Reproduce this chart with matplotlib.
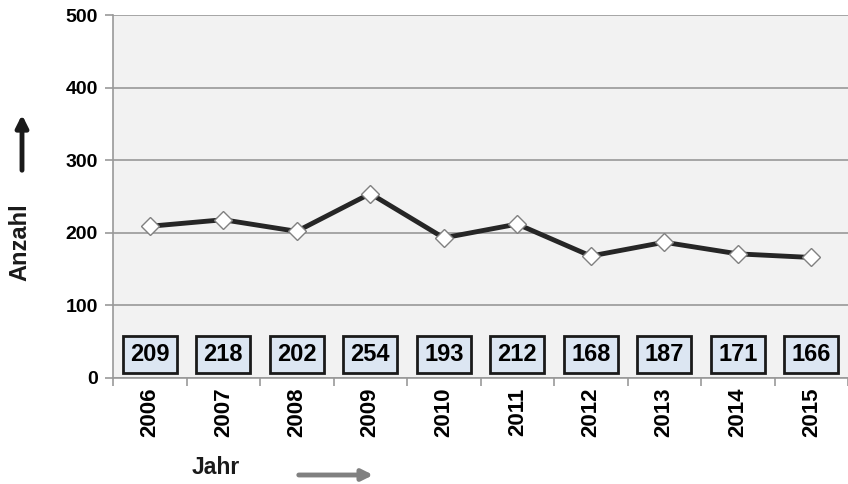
import numpy as np
import matplotlib.pyplot as plt

# Daten
jahre = ['2006', '2007', '2008', '2009', '2010', '2011', '2012', '2013', '2014', '2015']
anzahl = [209, 218, 202, 254, 193, 212, 168, 187, 171, 166]

plt.rcParams['font.family'] = ['Liberation Sans', 'DejaVu Sans']
plt.rcParams['font.weight'] = 'bold'

fig = plt.figure(figsize=(8.48, 4.84), dpi=100)
ax = fig.add_axes([113/848, 1 - 378/484, 1 - 113/848, (378 - 15)/484])
ax.set_facecolor('#f2f2f2')

x = np.arange(len(jahre))
ax.plot(x, anzahl, color='#262626', linewidth=3.5, zorder=3,
        marker='D', markersize=9, markerfacecolor='white',
        markeredgecolor='#808080', markeredgewidth=1)

# Wertekästen
for xi, v in zip(x, anzahl):
    ax.text(xi, 32, str(v), ha='center', va='center', fontsize=17, fontweight='bold',
            color='black',
            bbox=dict(boxstyle='square,pad=0.3', facecolor='#dce6f2',
                      edgecolor='#1a1a1a', linewidth=2), zorder=4)

ax.set_xlim(-0.5, len(jahre) - 0.5)
ax.set_ylim(0, 500)
ax.set_yticks([0, 100, 200, 300, 400, 500])
ax.yaxis.grid(True, color='#999999', linewidth=1.2)
ax.set_axisbelow(True)

ax.set_xticks(x)
ax.set_xticklabels(jahre, rotation=90, fontsize=16, fontweight='bold')
ax.set_xticks(np.arange(-0.5, len(jahre) + 0.5, 1), minor=True)
ax.tick_params(axis='x', which='major', length=0, pad=7)
ax.tick_params(axis='x', which='minor', length=6, color='#999999', width=1.2)
ax.tick_params(axis='y', length=6, color='#999999', width=1.2, labelsize=14, pad=5)
for lab in ax.get_yticklabels():
    lab.set_fontweight('bold')

for s in ['top', 'right']:
    ax.spines[s].set_visible(False)
for s in ['left', 'bottom']:
    ax.spines[s].set_color('#999999')
    ax.spines[s].set_linewidth(1.2)

# Achsentitel mit Pfeilen
fig.text(20/848, 1 - 242/484, 'Anzahl', rotation=90, ha='center', va='center',
         fontsize=17, fontweight='bold', color='#1a1a1a')
ax.annotate('', xy=(22/848, 1 - 112/484), xytext=(22/848, 1 - 173/484),
            xycoords='figure fraction',
            arrowprops=dict(arrowstyle='-|>', color='#1a1a1a', lw=3.5, mutation_scale=18))
fig.text(216/848, 1 - 468/484, 'Jahr', ha='center', va='center',
         fontsize=16.5, fontweight='bold', color='#1a1a1a')
ax.annotate('', xy=(376/848, 1 - 475/484), xytext=(296/848, 1 - 475/484),
            xycoords='figure fraction',
            arrowprops=dict(arrowstyle='-|>', color='#808080', lw=3.5, mutation_scale=16))

fig.savefig('out.png', dpi=100)
